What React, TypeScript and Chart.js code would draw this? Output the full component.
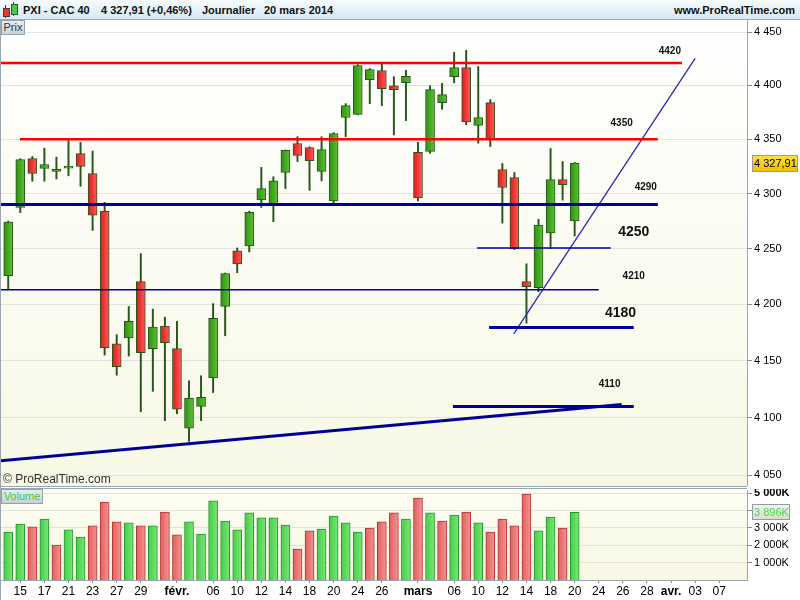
import React, { useEffect, useRef } from "react";
import { Chart, registerables } from "chart.js";
Chart.register(...registerables);

// ---- DATA (CAC 40 daily, 14 Jan 2014 -> 20 Mar 2014) ----
const opens = [4225.6, 4287.4, 4332.2, 4323.0, 4320.4, 4323.3, 4336.8, 4318.4, 4283.8, 4164.8, 4170.0, 4220.3, 4160.6, 4180.6, 4160.6, 4090.8, 4109.8, 4134.9, 4198.1, 4247.9, 4252.4, 4294.3, 4290.7, 4319.3, 4346.0, 4342.3, 4320.3, 4293.4, 4370.1, 4373.0, 4405.4, 4414.0, 4399.7, 4402.5, 4337.8, 4338.7, 4384.0, 4408.3, 4416.8, 4362.7, 4384.0, 4322.1, 4314.7, 4220.3, 4214.9, 4264.2, 4312.9, 4275.2];
const highs = [4275.0, 4332.0, 4334.0, 4341.7, 4333.4, 4349.0, 4347.2, 4339.0, 4292.0, 4173.0, 4198.0, 4245.5, 4195.7, 4188.5, 4184.9, 4132.3, 4136.7, 4200.6, 4228.0, 4250.6, 4284.0, 4324.0, 4315.4, 4340.0, 4352.3, 4343.0, 4352.3, 4356.0, 4383.0, 4419.5, 4415.8, 4420.6, 4408.2, 4414.2, 4347.0, 4399.7, 4402.0, 4431.0, 4433.0, 4417.7, 4386.8, 4327.6, 4319.3, 4236.3, 4276.6, 4341.4, 4329.4, 4328.5];
const lows = [4213.0, 4282.6, 4311.3, 4311.3, 4313.4, 4316.3, 4306.7, 4266.4, 4154.9, 4137.2, 4154.0, 4105.2, 4123.0, 4097.4, 4103.4, 4079.4, 4097.4, 4122.0, 4172.0, 4228.3, 4247.0, 4287.4, 4274.4, 4304.6, 4329.4, 4303.0, 4311.7, 4290.7, 4352.3, 4372.5, 4383.0, 4381.2, 4354.0, 4367.2, 4293.4, 4336.9, 4377.7, 4402.4, 4363.4, 4346.3, 4343.2, 4273.1, 4249.0, 4183.2, 4211.3, 4250.0, 4294.0, 4261.5];
const closes = [4274.0, 4331.3, 4318.4, 4326.7, 4322.3, 4323.9, 4324.8, 4280.3, 4161.3, 4144.7, 4184.9, 4157.0, 4179.7, 4165.8, 4107.4, 4117.2, 4117.8, 4187.6, 4227.4, 4236.3, 4283.0, 4304.6, 4311.7, 4339.6, 4335.0, 4330.3, 4340.5, 4355.3, 4381.2, 4418.7, 4414.9, 4396.9, 4396.0, 4408.5, 4296.1, 4396.0, 4391.4, 4416.8, 4366.0, 4370.1, 4350.3, 4305.6, 4249.7, 4215.8, 4271.3, 4312.9, 4308.1, 4327.91];
// volumes in thousands
const volumes = [2770, 3230, 3060, 3520, 2020, 2890, 2480, 3120, 4500, 3350, 3290, 3120, 3120, 3920, 2600, 3350, 2650, 4560, 3400, 2890, 3870, 3580, 3580, 3170, 1790, 2830, 2940, 3690, 3290, 2770, 3000, 3350, 3870, 3520, 4730, 3870, 3400, 3750, 3920, 3290, 2770, 3520, 3120, 4960, 2830, 3630, 3000, 3896];

const priceTicks = [4050, 4100, 4150, 4200, 4250, 4300, 4350, 4400, 4450];
const volumeTicks = [1000, 2000, 3000, 4000, 5000];
const xTickIndex = [1, 3, 5, 7, 9, 11, 14, 17, 19, 21, 23, 25, 27, 29, 31, 34, 37, 39, 41, 43, 45, 47, 49, 51, 53, 55, 57, 59];
const xTickLabels = ["15", "17", "21", "23", "27", "29", "févr.", "06", "10", "12", "14", "18", "20", "24", "26", "mars", "06", "10", "12", "14", "18", "20", "24", "26", "28", "avr.", "03", "07"];
const monthLabels = ["févr.", "mars", "avr."];

// drawn support / resistance levels (x in trading-day index)
const levelValues = [4421, 4350, 4290, 4250.6, 4213, 4179.3, 4109.8];
const levelFrom = [-0.7, 0.97, -0.7, 38.9, -0.7, 39.9, 36.9];
const levelTo = [55.9, 53.9, 53.9, 50.0, 49.0, 51.9, 51.9];
const levelLabels = ["4420", "4350", "4290", "4250", "4210", "4180", "4110"];
const labelIndex = [54.9, 50.9, 52.9, 51.9, 51.9, 50.8, 49.9];
const labelPrice = [4432.3, 4364.8, 4305.8, 4265.3, 4225, 4192.1, 4129];

// trend lines
const trendFromX = [-0.7, 41.94];
const trendFromY = [4062.5, 4173.6];
const trendToX = [50.9, 57.0];
const trendToY = [4111.5, 4425.3];

const X_MIN = -0.6;
const X_MAX = 61.3;
const FONT = 'Arial, "Liberation Sans", sans-serif';

const fmt = (v: number) => Math.round(v).toString().replace(/\B(?=(\d{3})+(?!\d))/g, " ");

function hGrad(chart: any, xVal: number, w: number, c1: string, c2: string) {
  const xs = chart.scales && chart.scales.x;
  if (!xs || !isFinite(xs.left)) return c1;
  const px = xs.getPixelForValue(xVal);
  const g = chart.ctx.createLinearGradient(px - w / 2, 0, px + w / 2, 0);
  g.addColorStop(0, c1);
  g.addColorStop(1, c2);
  return g;
}

const isUp = (i: number) => (i === 0 ? closes[0] >= opens[0] : closes[i] >= closes[i - 1]);

export default function App() {
  const priceRef = useRef<HTMLCanvasElement>(null);
  const volRef = useRef<HTMLCanvasElement>(null);

  useEffect(() => {
    document.body.style.margin = "0";
    Chart.defaults.font.family = FONT;
    Chart.defaults.color = "#000";

    const bgPlugin = (c1: string, c2: string) => ({
      id: "bg",
      beforeDraw(chart: any) {
        const { ctx, chartArea: a } = chart;
        const g = ctx.createLinearGradient(0, a.top, 0, a.bottom);
        g.addColorStop(0, c1);
        g.addColorStop(1, c2);
        ctx.save();
        ctx.fillStyle = g;
        ctx.fillRect(a.left, a.top, a.right - a.left, a.bottom - a.top);
        ctx.restore();
      },
    });

    const levelStyles = [
      { color: "#ff0000", width: 2.5 },
      { color: "#ff0000", width: 2.5 },
      { color: "#000099", width: 3 },
      { color: "#000099", width: 1.5 },
      { color: "#000099", width: 1.5 },
      { color: "#000099", width: 3 },
      { color: "#000099", width: 3 },
    ];
    const labelSizes = [10, 10, 10, 14, 10, 14, 10];
    const trendStyles = [
      { color: "#000099", width: 3 },
      { color: "#2a2ab8", width: 1.3 },
    ];

    const labelsPlugin = {
      id: "levelLabels",
      afterDatasetsDraw(chart: any) {
        const { ctx } = chart;
        const xs = chart.scales.x;
        const ys = chart.scales.y;
        ctx.save();
        ctx.fillStyle = "#111";
        ctx.textAlign = "center";
        ctx.textBaseline = "middle";
        levelLabels.forEach((t, i) => {
          ctx.font = `bold ${labelSizes[i]}px ${FONT}`;
          ctx.fillText(t, xs.getPixelForValue(labelIndex[i]), ys.getPixelForValue(labelPrice[i]));
        });
        ctx.fillStyle = "#333";
        ctx.textAlign = "left";
        ctx.font = `12px ${FONT}`;
        ctx.fillText("© ProRealTime.com", 3, chart.chartArea.bottom - 6);
        ctx.restore();
      },
      afterDraw(chart: any) {
        const { ctx } = chart;
        const ys = chart.scales.y;
        const last = closes[closes.length - 1];
        const y = Math.round(ys.getPixelForValue(last));
        ctx.save();
        const g = ctx.createLinearGradient(0, y - 8, 0, y + 8);
        g.addColorStop(0, "#ffe14a");
        g.addColorStop(1, "#f0be00");
        ctx.fillStyle = g;
        ctx.fillRect(752.5, y - 7.5, 45, 16);
        ctx.strokeStyle = "#9a9a9a";
        ctx.lineWidth = 1;
        ctx.strokeRect(752.5, y - 7.5, 45, 16);
        ctx.fillStyle = "#000";
        ctx.font = `11px ${FONT}`;
        ctx.textBaseline = "middle";
        ctx.fillText(last.toFixed(2).replace(".", ",").replace(/^(\d)(\d{3})/, "$1 $2"), 754, y + 0.5);
        ctx.restore();
      },
    };

    const lineDatasets: any[] = [];
    levelValues.forEach((v, i) => {
      lineDatasets.push({
        type: "line",
        data: [
          { x: levelFrom[i], y: v },
          { x: levelTo[i], y: v },
        ],
        borderColor: levelStyles[i].color,
        borderWidth: levelStyles[i].width,
        pointRadius: 0,
        fill: false,
        order: 0,
      });
    });
    trendFromX.forEach((fx, i) => {
      lineDatasets.push({
        type: "line",
        data: [
          { x: fx, y: trendFromY[i] },
          { x: trendToX[i], y: trendToY[i] },
        ],
        borderColor: trendStyles[i].color,
        borderWidth: trendStyles[i].width,
        pointRadius: 0,
        fill: false,
        order: 0,
      });
    });

    const priceChart = new Chart(priceRef.current!, {
      type: "bar",
      data: {
        datasets: [
          ...lineDatasets,
          {
            type: "bar",
            data: opens.map((o, i) => ({ x: i, y: [o, closes[i]] })),
            backgroundColor: (ctx: any) => {
              if (ctx.type !== "data") return "#44aa22";
              const i = ctx.dataIndex;
              const up = closes[i] >= opens[i];
              return up
                ? hGrad(ctx.chart, i, 9, "#2f9012", "#5cc232")
                : hGrad(ctx.chart, i, 9, "#e01818", "#ff5c5c");
            },
            borderColor: "#27561a",
            borderWidth: 1,
            borderSkipped: false,
            barThickness: 9,
            minBarLength: 2,
            grouped: false,
            order: 1,
          } as any,
          {
            type: "bar",
            data: highs.map((h, i) => ({ x: i, y: [lows[i], h] })),
            backgroundColor: "#27561a",
            borderWidth: 0,
            barThickness: 1.3,
            grouped: false,
            order: 2,
          } as any,
        ],
      },
      options: {
        animation: false,
        responsive: false,
        events: [],
        layout: { padding: { left: 1, top: 0, bottom: 0, right: 0 } },
        plugins: { legend: { display: false }, tooltip: { enabled: false } },
        scales: {
          x: {
            type: "linear",
            min: X_MIN,
            max: X_MAX,
            offset: false,
            display: false,
            grid: { offset: false },
          },
          y: {
            type: "logarithmic",
            position: "right",
            min: 4040.9,
            max: 4461.6,
            afterBuildTicks: (s: any) => {
              s.ticks = priceTicks.map((v) => ({ value: v }));
            },
            afterFit: (s: any) => {
              s.width = 53;
              s.paddingTop = 0;
              s.paddingBottom = 0;
            },
            ticks: {
              callback: (v: any) => fmt(Number(v)),
              font: { size: 11 },
              color: "#000",
              padding: 2,
              autoSkip: false,
            },
            grid: { color: "#e2e2e2", tickColor: "#8a8a8a", tickLength: 5 },
            border: { display: true, color: "#9aa6b0" },
          },
        },
      } as any,
      plugins: [bgPlugin("#ffffff", "#f8f8e6"), labelsPlugin],
    });

    const volPlugin = {
      id: "volBox",
      afterDraw(chart: any) {
        const { ctx } = chart;
        const ys = chart.scales.y;
        const last = volumes[volumes.length - 1];
        const y = Math.round(ys.getPixelForValue(last));
        ctx.save();
        const g = ctx.createLinearGradient(0, y - 7, 0, y + 7);
        g.addColorStop(0, "#f4f4ee");
        g.addColorStop(1, "#dcdcd2");
        ctx.fillStyle = g;
        ctx.fillRect(752.5, y - 7.5, 37, 15);
        ctx.strokeStyle = "#8f9ca6";
        ctx.lineWidth = 1;
        ctx.strokeRect(752.5, y - 7.5, 37, 15);
        ctx.fillStyle = "#44dd44";
        ctx.font = `11px ${FONT}`;
        ctx.textBaseline = "middle";
        ctx.fillText(fmt(last) + "K", 754, y + 0.5);
        ctx.restore();
      },
    };

    const volChart = new Chart(volRef.current!, {
      type: "bar",
      data: {
        datasets: [
          {
            data: volumes.map((v, i) => ({ x: i, y: v })),
            backgroundColor: (ctx: any) => {
              if (ctx.type !== "data") return "#55cc55";
              const i = ctx.dataIndex;
              return isUp(i)
                ? hGrad(ctx.chart, i, 9, "#48cc48", "#78e678")
                : hGrad(ctx.chart, i, 9, "#e45e5e", "#f39494");
            },
            borderColor: (ctx: any) => (ctx.type === "data" && !isUp(ctx.dataIndex) ? "#b03434" : "#23962a"),
            borderWidth: 1,
            borderSkipped: "bottom",
            barThickness: 9,
            grouped: false,
          } as any,
        ],
      },
      options: {
        animation: false,
        responsive: false,
        events: [],
        layout: { padding: { left: 1, top: 1, bottom: 0, right: 0 } },
        plugins: { legend: { display: false }, tooltip: { enabled: false } },
        scales: {
          x: {
            type: "linear",
            min: X_MIN,
            max: X_MAX,
            offset: false,
            afterBuildTicks: (s: any) => {
              s.ticks = xTickIndex.map((v) => ({ value: v }));
            },
            afterFit: (s: any) => {
              s.height = 20;
              s.paddingLeft = 0;
              s.paddingRight = 0;
            },
            ticks: {
              autoSkip: false,
              maxRotation: 0,
              padding: 1,
              color: "#000",
              callback: (v: any) => xTickLabels[xTickIndex.indexOf(Number(v))],
              font: (ctx: any) => {
                const idx = ctx.tick ? xTickIndex.indexOf(ctx.tick.value) : -1;
                const lab = idx >= 0 ? xTickLabels[idx] : "";
                return { size: 12, weight: monthLabels.includes(lab) ? "bold" : "normal" };
              },
            },
            grid: { drawOnChartArea: false, drawTicks: true, tickLength: 3, color: "#8a8a8a", offset: false },
            border: { display: true, color: "#9aa6b0" },
          },
          y: {
            type: "linear",
            position: "right",
            min: 0,
            max: 5190,
            afterBuildTicks: (s: any) => {
              s.ticks = volumeTicks.map((v) => ({ value: v }));
            },
            afterFit: (s: any) => {
              s.width = 53;
              s.paddingTop = 0;
              s.paddingBottom = 0;
            },
            ticks: {
              callback: (v: any) => fmt(Number(v)) + "K",
              padding: 2,
              color: "#000",
              autoSkip: false,
              font: (ctx: any) => ({ size: 11, weight: ctx.tick && ctx.tick.value === 5000 ? "bold" : "normal" }),
            },
            grid: { color: "#e2e2d8", tickColor: "#8a8a8a", tickLength: 5 },
            border: { display: true, color: "#9aa6b0" },
          },
        },
      } as any,
      plugins: [bgPlugin("#fdfdf3", "#f8f8e4"), volPlugin],
    });

    return () => {
      priceChart.destroy();
      volChart.destroy();
    };
  }, []);

  const boxStyle: React.CSSProperties = {
    position: "absolute",
    height: 13,
    border: "1px solid #93a2ac",
    background: "linear-gradient(#e8eef1, #c6d2d9)",
    font: `11px ${FONT}`,
    lineHeight: "13px",
    textAlign: "center",
  };

  return (
    <div style={{ position: "fixed", left: 0, top: 0, width: 800, height: 600, background: "#fff", overflow: "hidden", fontFamily: FONT }}>
      {/* header */}
      <div
        style={{
          position: "absolute",
          left: 0,
          top: 0,
          width: 800,
          height: 19,
          background: "linear-gradient(#f6fbfd, #d6eaf4)",
          borderBottom: "1px solid #9aa8b4",
          font: `bold 11px ${FONT}`,
          color: "#111",
        }}
      >
        {/* icon */}
        <div style={{ position: "absolute", left: 5, top: 5, width: 1, height: 13, background: "#444" }} />
        <div style={{ position: "absolute", left: 3, top: 8, width: 5, height: 7, background: "#e33", border: "1px solid #533" }} />
        <div style={{ position: "absolute", left: 13, top: 2, width: 1, height: 14, background: "#444" }} />
        <div style={{ position: "absolute", left: 11, top: 4, width: 5, height: 9, background: "#4c4", border: "1px solid #353" }} />
        <span style={{ position: "absolute", left: 23, top: 3, lineHeight: "14px" }}>PXI - CAC 40</span>
        <span style={{ position: "absolute", left: 101, top: 3, lineHeight: "14px" }}>4 327,91 (+0,46%)</span>
        <span style={{ position: "absolute", left: 202, top: 3, lineHeight: "14px" }}>Journalier</span>
        <span style={{ position: "absolute", left: 264, top: 3, lineHeight: "14px" }}>20 mars 2014</span>
        <span style={{ position: "absolute", right: 5, top: 3, lineHeight: "14px" }}>www.ProRealTime.com</span>
      </div>
      {/* price panel */}
      <canvas ref={priceRef} width={800} height={466} style={{ position: "absolute", left: 0, top: 20, width: 800, height: 466 }} />
      <div style={{ position: "absolute", left: 0, top: 486, width: 747, height: 1, background: "#9aa6b0" }} />
      {/* volume panel */}
      <div style={{ position: "absolute", left: 0, top: 488, width: 747, height: 1, background: "#9aa6b0" }} />
      <canvas ref={volRef} width={800} height={111} style={{ position: "absolute", left: 0, top: 489, width: 800, height: 111 }} />
      <div style={{ position: "absolute", left: 0, top: 20, width: 1, height: 580, background: "#9aa6b0" }} />
      <div style={{ ...boxStyle, left: 1, top: 20, width: 22, color: "#333" }}>Prix</div>
      <div style={{ ...boxStyle, left: 1, top: 489, width: 40, color: "#3ccc3c" }}>Volume</div>
    </div>
  );
}
